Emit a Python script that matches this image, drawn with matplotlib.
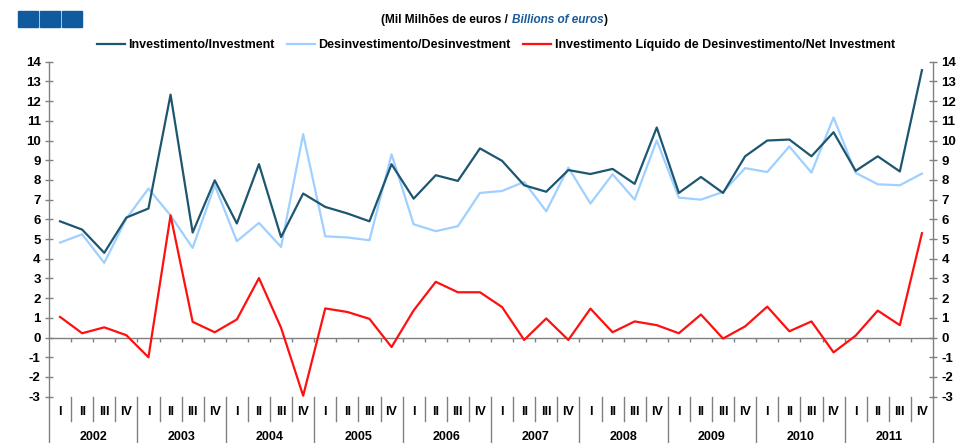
import matplotlib
matplotlib.use("Agg")
import matplotlib.pyplot as plt
import matplotlib.patches as mpatches
import numpy as np

years = ["2002", "2003", "2004", "2005", "2006", "2007", "2008", "2009", "2010", "2011"]
quarters = ["I", "II", "III", "IV"]

investimento = [5.9, 5.48, 4.3, 6.09, 6.55, 12.33, 5.33, 7.98, 5.79, 8.8, 5.1, 7.31,
                6.63, 6.3, 5.9, 8.8, 7.05, 8.24, 7.95, 9.6, 8.97, 7.73, 7.4, 8.5,
                8.3, 8.56, 7.8, 10.66, 7.34, 8.15, 7.34, 9.2, 10.0, 10.05, 9.2, 10.42,
                8.46, 9.2, 8.43, 13.57]
desinvestimento = [4.82, 5.24, 3.79, 6.04, 7.56, 6.2, 4.55, 7.73, 4.89, 5.82, 4.6, 10.32,
                   5.14, 5.08, 4.94, 9.3, 5.75, 5.4, 5.65, 7.34, 7.44, 7.9, 6.41, 8.63,
                   6.8, 8.29, 7.0, 10.0, 7.1, 7.0, 7.39, 8.6, 8.4, 9.7, 8.37, 11.17,
                   8.36, 7.78, 7.73, 8.32]
liquido = [1.05, 0.22, 0.52, 0.12, -1.0, 6.2, 0.8, 0.27, 0.92, 3.02, 0.5, -2.95,
           1.48, 1.3, 0.95, -0.48, 1.38, 2.83, 2.3, 2.3, 1.55, -0.12, 0.97, -0.12,
           1.47, 0.27, 0.82, 0.63, 0.22, 1.17, -0.05, 0.57, 1.57, 0.32, 0.82, -0.75,
           0.1, 1.37, 0.63, 5.3]

labels = ["Investimento/Investment", "Desinvestimento/Desinvestment",
          "Investimento Líquido de Desinvestimento/Net Investment"]
colors = ["#1d5670", "#9fd0ff", "#ff1010"]

FONT = ["Liberation Sans", "DejaVu Sans"]
plt.rcParams["font.family"] = FONT
plt.rcParams["font.weight"] = "bold"
plt.rcParams["axes.unicode_minus"] = False

W, H = 957, 443
fig = plt.figure(figsize=(W / 100, H / 100), dpi=100)
x0, x1 = 49, 933
ytop, ybot = 61.7, 396.7
ax = fig.add_axes([x0 / W, 1 - ybot / H, (x1 - x0) / W, (ybot - ytop) / H])

n = len(investimento)
x = np.arange(n)
ax.plot(x, desinvestimento, color=colors[1], lw=1.6, label=labels[1], zorder=3)
ax.plot(x, investimento, color=colors[0], lw=1.6, label=labels[0], zorder=4)
ax.plot(x, liquido, color=colors[2], lw=1.6, label=labels[2], zorder=5)

ax.set_xlim(-0.5, n - 0.5)
ax.set_ylim(-3, 14)
grey = "#808080"
ax.spines["top"].set_visible(False)
ax.spines["bottom"].set_position(("data", 0))
for s in ["bottom", "left", "right"]:
    ax.spines[s].set_color(grey)
    ax.spines[s].set_linewidth(1.0)

ax.set_yticks(range(-3, 15))
ax.tick_params(axis="y", which="both", direction="inout", length=6, width=1, color=grey,
               labelsize=9.5, labelcolor="black", left=True, right=True,
               labelleft=True, labelright=True, pad=3)
for lab in ax.get_yticklabels():
    lab.set_fontweight("bold")
ax.set_xticks(np.arange(0.5, n - 0.5, 1.0))
ax.set_xticklabels([])
ax.tick_params(axis="x", direction="out", length=3, width=1, color=grey)

trans = ax.get_xaxis_transform()
axh = ybot - ytop
def ay(py):
    return (ybot - py) / axh

for i in range(n):
    ax.text(i, ay(412), quarters[i % 4], transform=trans, ha="center", va="center",
            fontsize=9, fontweight="bold", clip_on=False)
for k in range(n + 1):
    xb = k - 0.5
    if k % 4 == 0:
        ax.plot([xb, xb], [ay(397), ay(443)], transform=trans, color=grey, lw=1.0, clip_on=False)
    else:
        ax.plot([xb, xb], [ay(397), ay(421)], transform=trans, color=grey, lw=1.0, clip_on=False)
for j, yr in enumerate(years):
    ax.text(4 * j + 1.5, ay(437), yr, transform=trans, ha="center", va="center",
            fontsize=9, fontweight="bold", clip_on=False)

# top-left blue squares
for i in range(3):
    fig.patches.append(mpatches.Rectangle(((18 + i * 22) / W, 1 - 27 / H), 20 / W, 16 / H,
                                          transform=fig.transFigure, color="#0f5b9e"))

# title
fig.text(508 / W, 1 - 20 / H, "(Mil Milhões de euros /", ha="right", va="center",
         fontsize=8.5, fontweight="bold")
fig.text(512 / W, 1 - 20 / H, "Billions of euros", ha="left", va="center",
         fontsize=8.5, fontweight="bold", style="italic", color="#1b5a96")
fig.text(604 / W, 1 - 20 / H, ")", ha="left", va="center", fontsize=8.5, fontweight="bold")

handles, labs = ax.get_legend_handles_labels()
order = [1, 0, 2]
fig.legend([handles[i] for i in order], [labs[i] for i in order], loc="center",
           bbox_to_anchor=(496 / W, 1 - 45 / H), ncol=3, frameon=False,
           handlelength=2.2, handletextpad=0.3, columnspacing=1.0,
           prop={"weight": "bold", "size": 9, "family": FONT})

fig.savefig("out.png", dpi=100)
